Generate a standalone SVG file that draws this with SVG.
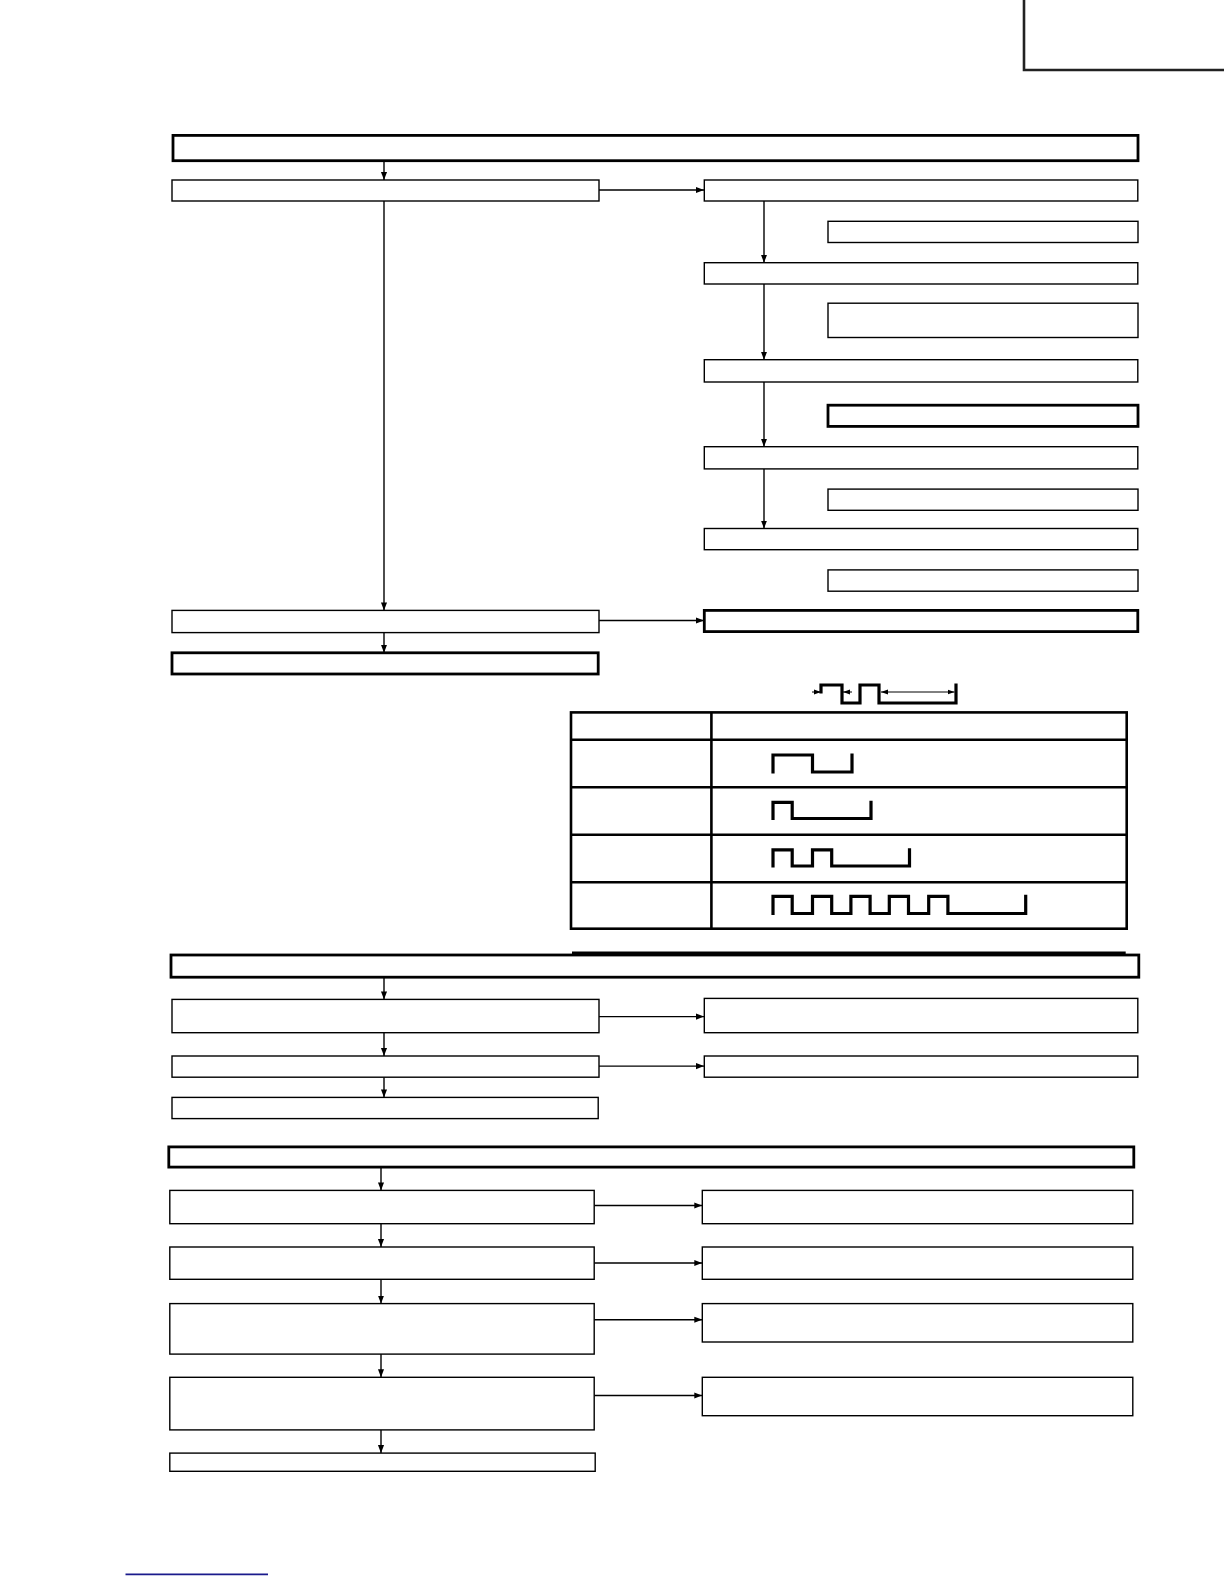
<svg xmlns="http://www.w3.org/2000/svg" width="1224" height="1584" viewBox="0 0 1224 1584">
<style>
.b{fill:#fff;stroke:#000;stroke-width:1.4}
.t{fill:#fff;stroke:#000;stroke-width:2.8}
.c{fill:none;stroke:#000;stroke-width:1.4}
.w{fill:none;stroke:#000;stroke-width:3.2;stroke-linejoin:miter;stroke-linecap:square}
.d{fill:none;stroke:#000;stroke-width:1}
.g{fill:none;stroke:#000;stroke-width:2.6}
</style>
<defs>
<marker id="ah" viewBox="0 0 10 10" refX="10" refY="5" markerWidth="8" markerHeight="8" markerUnits="userSpaceOnUse" orient="auto"><path d="M0,1.2 L10,5 L0,8.8 z" fill="#000"/></marker>
<marker id="sa" viewBox="0 0 10 10" refX="10" refY="5" markerWidth="7" markerHeight="7" markerUnits="userSpaceOnUse" orient="auto"><path d="M0,1.5 L10,5 L0,8.5 z" fill="#000"/></marker>
</defs>
<rect width="1224" height="1584" fill="#fff"/>
<g id="corner"><path d="M1024,0 V70 H1226" fill="none" stroke="#222" stroke-width="2.6"/></g>

<g id="connectors">
<line class="c" x1="384" y1="161" x2="384" y2="180" marker-end="url(#ah)"/>
<line class="c" x1="599" y1="190" x2="704" y2="190" marker-end="url(#ah)"/>
<line class="c" x1="384" y1="201" x2="384" y2="610.4" marker-end="url(#ah)"/>
<line class="c" x1="764" y1="201" x2="764" y2="262.7" marker-end="url(#ah)"/>
<line class="c" x1="764" y1="284" x2="764" y2="359.7" marker-end="url(#ah)"/>
<line class="c" x1="764" y1="382" x2="764" y2="446.7" marker-end="url(#ah)"/>
<line class="c" x1="764" y1="469" x2="764" y2="528.5" marker-end="url(#ah)"/>
<line class="c" x1="599" y1="620.5" x2="704" y2="620.5" marker-end="url(#ah)"/>
<line class="c" x1="384" y1="632.6" x2="384" y2="652.8" marker-end="url(#ah)"/>

<line class="c" x1="384" y1="977" x2="384" y2="999.4" marker-end="url(#ah)"/>
<line class="c" x1="599" y1="1016.6" x2="704" y2="1016.6" marker-end="url(#ah)"/>
<line class="c" x1="384" y1="1032.7" x2="384" y2="1056" marker-end="url(#ah)"/>
<line class="c" x1="599" y1="1066.1" x2="704" y2="1066.1" marker-end="url(#ah)"/>
<line class="c" x1="384" y1="1077.2" x2="384" y2="1097.4" marker-end="url(#ah)"/>

<line class="c" x1="381" y1="1167" x2="381" y2="1190.4" marker-end="url(#ah)"/>
<line class="c" x1="594.2" y1="1205.5" x2="702.3" y2="1205.5" marker-end="url(#ah)"/>
<line class="c" x1="381" y1="1223.7" x2="381" y2="1247" marker-end="url(#ah)"/>
<line class="c" x1="594.2" y1="1263" x2="702.3" y2="1263" marker-end="url(#ah)"/>
<line class="c" x1="381" y1="1279.3" x2="381" y2="1303.6" marker-end="url(#ah)"/>
<line class="c" x1="594.2" y1="1319.7" x2="702.3" y2="1319.7" marker-end="url(#ah)"/>
<line class="c" x1="381" y1="1354.1" x2="381" y2="1377.3" marker-end="url(#ah)"/>
<line class="c" x1="594.2" y1="1395.5" x2="702.3" y2="1395.5" marker-end="url(#ah)"/>
<line class="c" x1="381" y1="1429.9" x2="381" y2="1453.1" marker-end="url(#ah)"/>
</g>

<g id="n_top1"><rect class="t" x="173" y="135.4" width="965" height="25.3"/></g>
<g id="n_a1"><rect class="b" x="172" y="180" width="427" height="21"/></g>
<g id="n_b1"><rect class="b" x="704.3" y="180" width="433.5" height="21"/></g>
<g id="n_s1"><rect class="b" x="828" y="221.3" width="310" height="21.2"/></g>
<g id="n_c1"><rect class="b" x="704.3" y="262.7" width="433.5" height="21.3"/></g>
<g id="n_s2"><rect class="b" x="828" y="303.2" width="310" height="34.3"/></g>
<g id="n_d1"><rect class="b" x="704.3" y="359.7" width="433.5" height="22.3"/></g>
<g id="n_s3"><rect class="t" x="828" y="405.2" width="310" height="21.2"/></g>
<g id="n_e1"><rect class="b" x="704.3" y="446.7" width="433.5" height="22.2"/></g>
<g id="n_s4"><rect class="b" x="828" y="489.1" width="310" height="21.2"/></g>
<g id="n_f1"><rect class="b" x="704.3" y="528.5" width="433.5" height="21.2"/></g>
<g id="n_s5"><rect class="b" x="828" y="569.9" width="310" height="21.3"/></g>
<g id="n_g1"><rect class="b" x="172" y="610.4" width="427" height="22.2"/></g>
<g id="n_h1"><rect class="t" x="704.3" y="610.4" width="433.5" height="21.2"/></g>
<g id="n_i1"><rect class="t" x="172" y="652.8" width="426.2" height="21.2"/></g>

<g id="timing">
<path class="w" d="M821,692 V685 H842 V703 H860 V685 H879 V703 H956 V685"/>
<line class="d" x1="812" y1="692" x2="821" y2="692" marker-end="url(#sa)"/>
<line class="d" x1="852" y1="692" x2="843" y2="692" marker-end="url(#sa)"/>
<line class="d" x1="918" y1="692" x2="881" y2="692" marker-end="url(#sa)"/>
<line class="d" x1="918" y1="692" x2="954.5" y2="692" marker-end="url(#sa)"/>
</g>

<g id="table">
<rect class="g" x="571" y="712.4" width="555.7" height="216.3"/>
<line class="g" x1="711.4" y1="712.4" x2="711.4" y2="928.7"/>
<line class="g" x1="571" y1="739.7" x2="1126.7" y2="739.7"/>
<line class="g" x1="571" y1="787.2" x2="1126.7" y2="787.2"/>
<line class="g" x1="571" y1="834.7" x2="1126.7" y2="834.7"/>
<line class="g" x1="571" y1="882.2" x2="1126.7" y2="882.2"/>
<path class="w" d="M773,772 V755 H812.5 V772 H852 V755"/>
<path class="w" d="M773,818.5 V802.3 H792.2 V818.5 H871 V802.3"/>
<path class="w" d="M773,866 V849.8 H792.2 V866 H812.5 V849.8 H831.7 V866 H909.5 V849.8"/>
<path class="w" d="M773,913.5 V896.3 H792.2 V913.5 H812.5 V896.3 H831.7 V913.5 H850.9 V896.3 H870.1 V913.5 H889.3 V896.3 H908.5 V913.5 H928.7 V896.3 H947.9 V913.5 H1025.7 V896.3"/>
</g>
<line class="g" x1="572" y1="952.9" x2="1125.7" y2="952.9"/>

<g id="n_top2"><rect class="t" x="171" y="955" width="967.8" height="22.2"/></g>
<g id="n_a2"><rect class="b" x="172" y="999.4" width="427" height="33.3"/></g>
<g id="n_a2r"><rect class="b" x="704.3" y="998.4" width="433.5" height="34.3"/></g>
<g id="n_b2"><rect class="b" x="172" y="1056" width="427" height="21.2"/></g>
<g id="n_b2r"><rect class="b" x="704.3" y="1056" width="433.5" height="21.2"/></g>
<g id="n_c2"><rect class="b" x="172" y="1097.4" width="426.2" height="21.2"/></g>

<g id="n_top3"><rect class="t" x="168.8" y="1146.9" width="965" height="20.2"/></g>
<g id="n_d31"><rect class="b" x="169.8" y="1190.4" width="424.4" height="33.3"/></g>
<g id="n_e31"><rect class="b" x="702.3" y="1190.4" width="430.5" height="33.3"/></g>
<g id="n_d32"><rect class="b" x="169.8" y="1247" width="424.4" height="32.3"/></g>
<g id="n_e32"><rect class="b" x="702.3" y="1247" width="430.5" height="32.3"/></g>
<g id="n_d33"><rect class="b" x="169.8" y="1303.6" width="424.4" height="50.5"/></g>
<g id="n_e33"><rect class="b" x="702.3" y="1303.6" width="430.5" height="38.4"/></g>
<g id="n_d34"><rect class="b" x="169.8" y="1377.3" width="424.4" height="52.6"/></g>
<g id="n_e34"><rect class="b" x="702.3" y="1377.3" width="430.5" height="38.4"/></g>
<g id="n_d35"><rect class="b" x="169.8" y="1453.1" width="425.4" height="18.2"/></g>

<line x1="125.5" y1="1574.4" x2="268" y2="1574.4" stroke="#1a1a8c" stroke-width="1.6"/>
</svg>
